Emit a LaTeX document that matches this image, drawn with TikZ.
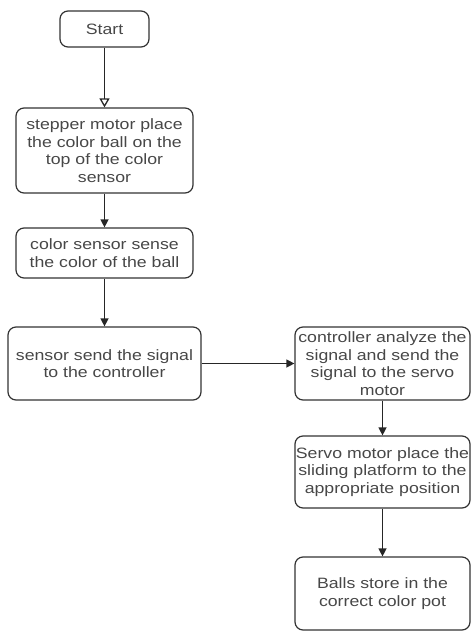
\documentclass[tikz,border=0pt]{standalone}
\usepackage{fontspec}
\setmainfont{Liberation Sans}[FakeStretch=1.18]
\usetikzlibrary{arrows.meta}
\begin{document}
\begin{tikzpicture}[x=1pt,y=-1pt,
  box/.style={draw=black!80,line width=1.2pt,rounded corners=8pt,align=center,
    inner sep=0pt,font=\fontsize{15}{17.5}\selectfont,text=black!72},
  arr/.style={draw=black!85,line width=1.3pt,-{Triangle[length=8pt,width=8pt]}},
  arro/.style={draw=black!85,line width=1.3pt,-{Triangle[open,length=9pt,width=10pt]}}]
\useasboundingbox (0,0) rectangle (471,631);
\node[box,minimum width=89pt,minimum height=36pt] (start) at (104.5,29) {Start};
\node[box,minimum width=177pt,minimum height=85pt] (b2) at (104.5,150.5)
  {stepper motor place\\the color ball on the\\top of the color\\sensor};
\node[box,minimum width=177pt,minimum height=50pt] (b3) at (104.5,253)
  {color sensor sense\\the color of the ball};
\node[box,minimum width=193pt,minimum height=73pt] (b4) at (104.5,363.5)
  {sensor send the signal\\to the controller};
\node[box,minimum width=175pt,minimum height=73pt] (b5) at (382.5,363.5)
  {controller analyze the\\signal and send the\\signal to the servo\\motor};
\node[box,minimum width=175pt,minimum height=72pt] (b6) at (382.5,472)
  {Servo motor place the\\sliding platform to the\\appropriate position};
\node[box,minimum width=175pt,minimum height=73pt] (b7) at (382.5,593.5)
  {Balls store in the\\correct color pot};
\draw[arro] (start) -- (b2);
\draw[arr] (b2) -- (b3);
\draw[arr] (b3) -- (b4);
\draw[arr] (b4) -- (b5);
\draw[arr] (b5) -- (b6);
\draw[arr] (b6) -- (b7);
\end{tikzpicture}
\end{document}
